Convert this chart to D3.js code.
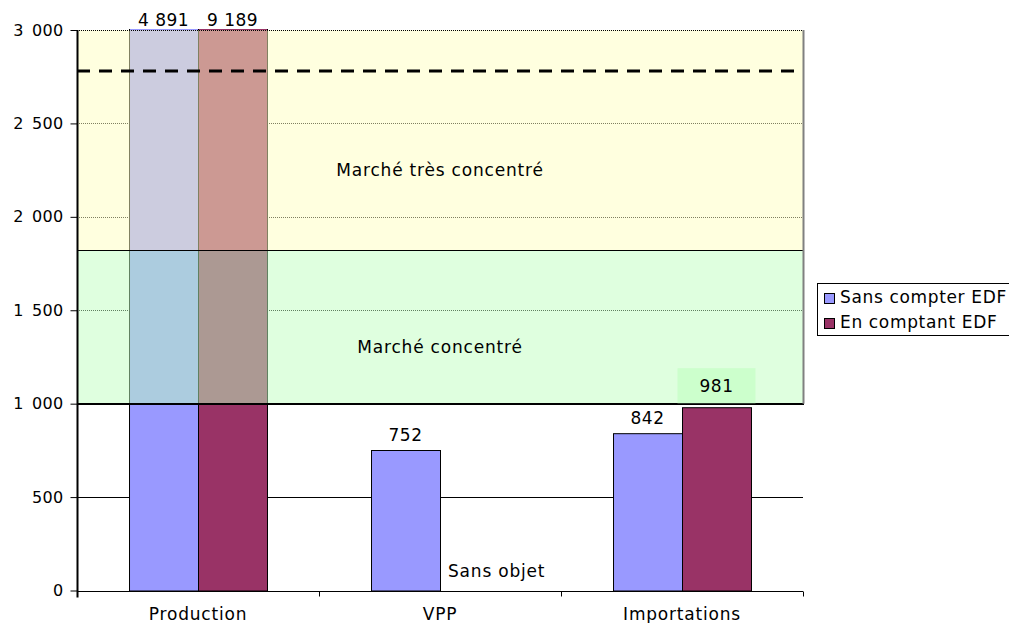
<!DOCTYPE html>
<html>
<head>
<meta charset="utf-8">
<script src="https://cdn.jsdelivr.net/npm/d3@7"></script>
<style>
  html, body { margin: 0; padding: 0; background: #fff; }
  svg { display: block; }
  text { font-family: Verdana, "DejaVu Sans", sans-serif; fill: #000; }
</style>
</head>
<body>
<svg id="chart" width="1009" height="623"></svg>
<script>
// Indice HHI par segment de marché
const categories = ["Production", "VPP", "Importations"];
const seriesNames = ["Sans compter EDF", "En comptant EDF"];
const sansEDF = [4891, 752, 842];
const avecEDF = [9189, null, 981];
const yTicks = [0, 500, 1000, 1500, 2000, 2500, 3000];
const yTickLabels = ["0", "500", "1\u2002000", "1\u2002500", "2\u2002000", "2\u2002500", "3\u2002000"];
// Seuils de concentration
const seuilConcentre = 1000;
const seuilTresConcentre = 1820;
const seuilPointille = 2780;
const yMax = 3000;

const colors = ["#9999FF", "#993366"];

(function () {
const svg = d3.select("#chart");
const plotLeft = 77, plotRight = 803, plotTop = 30, plotBottom = 590.5;

const x0 = d3.scaleBand().domain(categories).range([plotLeft, plotRight]).paddingInner(0).paddingOuter(0);
const x1 = d3.scaleBand().domain(seriesNames).range([0, x0.bandwidth()]).paddingInner(0).paddingOuter(0.754);
const y = d3.scaleLinear().domain([0, yMax]).range([plotBottom, plotTop]);

const rows = categories.map((c, i) => ({ cat: c, vals: [sansEDF[i], avecEDF[i]] }));

const defs = svg.append("defs");
defs.append("clipPath").attr("id", "plotClip")
  .append("rect").attr("x", 0).attr("y", y(yMax) - 1).attr("width", 1009).attr("height", 623);

// Gridlines
const grid = svg.append("g");
yTicks.filter(t => t > 0).forEach(t => {
  const inZone = t > seuilConcentre;
  grid.append("line")
    .attr("x1", plotLeft).attr("x2", plotRight)
    .attr("y1", Math.round(y(t)) + 0.5).attr("y2", Math.round(y(t)) + 0.5)
    .attr("stroke", "#000").attr("stroke-width", 1)
    .attr("stroke-dasharray", inZone ? "1,1" : null);
});

// Bars
const bars = svg.append("g").attr("clip-path", "url(#plotClip)");
rows.forEach(r => {
  r.vals.forEach((v, j) => {
    if (v == null) return;
    bars.append("rect")
      .attr("x", x0(r.cat) + x1(seriesNames[j]) + 0.5)
      .attr("y", y(v) + 0.5)
      .attr("width", x1.bandwidth())
      .attr("height", y(0) - y(v))
      .attr("fill", colors[j])
      .attr("stroke", "#000").attr("stroke-width", 1);
  });
});

// Concentration zones laid over the bars (semi-transparent)
const zones = svg.append("g");
zones.append("rect")
  .attr("x", plotLeft).attr("y", y(yMax))
  .attr("width", plotRight - plotLeft).attr("height", y(seuilTresConcentre) - y(yMax))
  .attr("fill", "#FFFFC0").attr("fill-opacity", 0.5);
zones.append("rect")
  .attr("x", plotLeft).attr("y", y(seuilTresConcentre))
  .attr("width", plotRight - plotLeft).attr("height", y(seuilConcentre) - y(seuilTresConcentre))
  .attr("fill", "#C0FFC0").attr("fill-opacity", 0.5);
zones.append("line")
  .attr("x1", plotLeft).attr("x2", plotRight)
  .attr("y1", Math.round(y(seuilTresConcentre)) + 0.5).attr("y2", Math.round(y(seuilTresConcentre)) + 0.5)
  .attr("stroke", "#000").attr("stroke-width", 1);
zones.append("line")
  .attr("x1", plotLeft).attr("x2", plotRight + 1)
  .attr("y1", Math.round(y(seuilConcentre))).attr("y2", Math.round(y(seuilConcentre)))
  .attr("stroke", "#000").attr("stroke-width", 2);
zones.append("line")
  .attr("x1", plotRight + 0.5).attr("x2", plotRight + 0.5)
  .attr("y1", y(yMax)).attr("y2", y(seuilConcentre))
  .attr("stroke", "#808080").attr("stroke-width", 2);
zones.append("line")
  .attr("x1", plotLeft).attr("x2", plotRight)
  .attr("y1", Math.round(y(yMax)) + 0.5).attr("y2", Math.round(y(yMax)) + 0.5)
  .attr("stroke", "#000").attr("stroke-width", 1).attr("stroke-dasharray", "1,1");

// Dashed reference line
svg.append("line")
  .attr("x1", plotLeft).attr("x2", plotRight)
  .attr("y1", Math.round(y(seuilPointille))).attr("y2", Math.round(y(seuilPointille)))
  .attr("stroke", "#000").attr("stroke-width", 3).attr("stroke-dasharray", "13,9");

svg.append("text").attr("x", (plotLeft + plotRight) / 2).attr("y", 176)
  .attr("text-anchor", "middle").attr("font-size", 17).attr("letter-spacing", 0.8)
  .text("Marché très concentré");
svg.append("text").attr("x", (plotLeft + plotRight) / 2).attr("y", 353)
  .attr("text-anchor", "middle").attr("font-size", 17).attr("letter-spacing", 0.8)
  .text("Marché concentré");

// Y axis
const yAxis = svg.append("g").attr("transform", `translate(${plotLeft + 0.5},0)`)
  .call(d3.axisLeft(y).tickValues(yTicks).tickSize(7).tickPadding(7)
    .tickFormat((d, i) => yTickLabels[i]));
yAxis.select(".domain").attr("d", `M0,${y(yMax)}V${plotBottom + 7}`)
  .attr("stroke", "#000").attr("stroke-width", 2);
yAxis.selectAll(".tick line").attr("stroke", "#000");
yAxis.selectAll(".tick text").attr("font-size", 16).attr("font-family", 'Verdana, "DejaVu Sans", sans-serif')
  .attr("letter-spacing", 0.3).attr("fill", "#000");

// X axis
const xAxis = svg.append("g").attr("transform", `translate(0,${Math.round(plotBottom) + 0.5})`);
xAxis.append("line").attr("x1", plotLeft).attr("x2", plotRight).attr("stroke", "#000");
const bounds = categories.map(c => x0(c)).concat([plotRight]);
bounds.forEach(b => {
  xAxis.append("line").attr("x1", Math.round(b) + 0.5).attr("x2", Math.round(b) + 0.5)
    .attr("y1", 0).attr("y2", 5).attr("stroke", "#000");
});
categories.forEach(c => {
  xAxis.append("text").attr("x", x0(c) + x0.bandwidth() / 2).attr("y", 28)
    .attr("text-anchor", "middle").attr("font-size", 17).attr("letter-spacing", 0.8).text(c);
});

// Value labels
const fmt = v => d3.format(",")(v).replace(/,/g, " ");
rows.forEach(r => {
  r.vals.forEach((v, j) => {
    if (v == null) return;
    const cx = x0(r.cat) + x1(seriesNames[j]) + x1.bandwidth() / 2;
    const clipped = v > yMax;
    const yl = clipped ? y(yMax) - 4 : y(v) - (j === 1 ? 15 : 9);
    if (!clipped && j === 1) {
      svg.append("rect").attr("x", cx - 39).attr("y", yl - 24).attr("width", 78).attr("height", 35)
        .attr("fill", "#CCFFCC");
    }
    svg.append("text").attr("x", cx).attr("y", yl).attr("text-anchor", "middle")
      .attr("font-size", 17).attr("letter-spacing", 0.5).text(fmt(v));
  });
});
// The VPP segment has no "with EDF" value
svg.append("text")
  .attr("x", x0("VPP") + x1(seriesNames[1]) + 8).attr("y", 577)
  .attr("font-size", 17).attr("letter-spacing", 0.8).text("Sans objet");

// Legend
const lg = svg.append("g").attr("transform", "translate(817.5,283.5)");
lg.append("rect").attr("width", 200).attr("height", 52).attr("fill", "#fff").attr("stroke", "#000");
seriesNames.forEach((s, i) => {
  lg.append("rect").attr("x", 7).attr("y", 10 + i * 25).attr("width", 10).attr("height", 10)
    .attr("fill", colors[i]).attr("stroke", "#000");
  lg.append("text").attr("x", 22.5).attr("y", 19.5 + i * 25).attr("font-size", 17)
    .attr("letter-spacing", 0.65).text(s);
});
})();
</script>
</body>
</html>
